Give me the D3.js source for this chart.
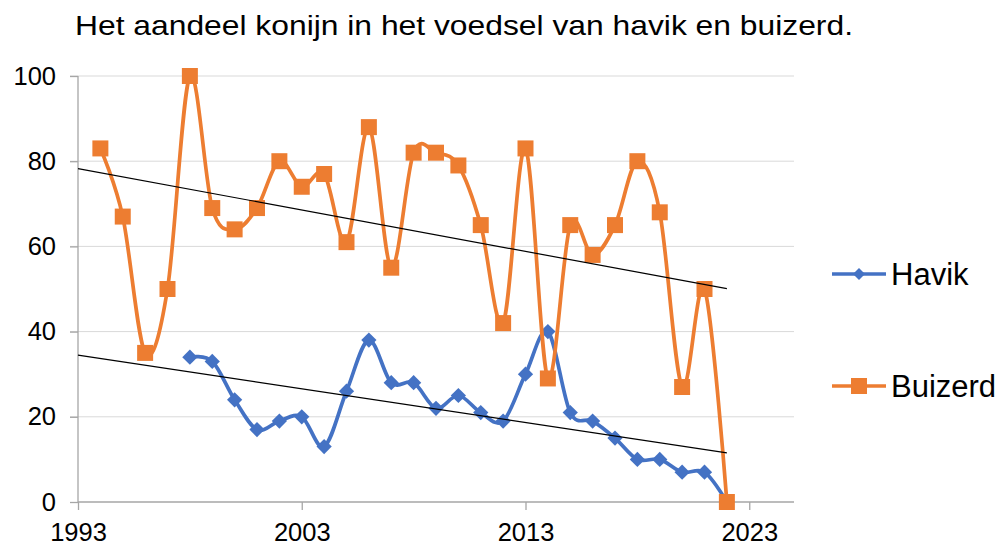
<!DOCTYPE html>
<html>
<head>
<meta charset="utf-8">
<script src="https://cdn.jsdelivr.net/npm/d3@7"></script>
<style>
  body { margin: 0; background: #fff; }
  text { font-family: "Liberation Sans", Arial, sans-serif; fill: #000; }
</style>
</head>
<body>
<div id="chart"></div>
<script>
// data
var buizerdYears = d3.range(1994, 2023);
var buizerdValues = [83, 67, 35, 50, 100, 69, 64, 69, 80, 74, 77, 61, 88, 55, 82, 82, 79, 65, 42, 83, 29, 65, 58, 65, 80, 68, 27, 50, 0];
var havikYears = d3.range(1998, 2023);
var havikValues = [34, 33, 24, 17, 19, 20, 13, 26, 38, 28, 28, 22, 25, 21, 19, 30, 40, 21, 19, 15, 10, 10, 7, 7, 0];
var xTicks = [1993, 2003, 2013, 2023];
var yTicks = [0, 20, 40, 60, 80, 100];
var titleText = "Het aandeel konijn in het voedsel van havik en buizerd.";

var width = 1000, height = 546;
var plot = {left: 78, right: 794, top: 76, bottom: 502};

var svg = d3.select("#chart").append("svg")
  .attr("width", width)
  .attr("height", height);

var x = d3.scaleLinear().domain([1993, 2025]).range([plot.left, plot.right]);
var y = d3.scaleLinear().domain([0, 100]).range([plot.bottom, plot.top]);

//title (the original is a bit wider than plain Arial)
svg.append("text")
  .attr("x", 75).attr("y", 35)
  .style("font-size", "27.5px")
  .attr("textLength", 778)
  .attr("lengthAdjust", "spacingAndGlyphs")
  .text(titleText);

//gridlines
svg.append("g").selectAll("line")
  .data(yTicks.filter(function(d) { return d > 0; }))
  .enter().append("line")
  .attr("x1", plot.left - 8).attr("x2", plot.right)
  .attr("y1", function(d) { return y(d); })
  .attr("y2", function(d) { return y(d); })
  .attr("stroke", "#d9d9d9").attr("stroke-width", 1);

//axes
var yAxis = svg.append("g")
  .attr("transform", "translate(" + plot.left + ",0)")
  .call(d3.axisLeft(y).tickValues(yTicks).tickSize(8).tickPadding(14));
var xAxis = svg.append("g")
  .attr("transform", "translate(0," + plot.bottom + ")")
  .call(d3.axisBottom(x).tickValues(xTicks).tickFormat(d3.format("d")).tickSize(8));

[yAxis, xAxis].forEach(function(a) {
  a.select(".domain").attr("stroke", "#a6a6a6").attr("stroke-width", 1.3);
  a.selectAll(".tick line").attr("stroke", "#a6a6a6").attr("stroke-width", 1.3);
  a.selectAll(".tick text")
    .style("font-size", "25.5px")
    .style("font-family", "'Liberation Sans', Arial, sans-serif")
    .attr("fill", "#000");
});
yAxis.select(".domain").attr("d", "M0," + plot.top + "V" + plot.bottom);
xAxis.select(".domain").attr("d", "M" + plot.left + ",0H" + plot.right);
xAxis.selectAll(".tick text").attr("y", 39).attr("dy", 0);

//linear trend (least squares), drawn from 1993 to 2022
function trend(xs, ys) {
  var mx = d3.mean(xs), my = d3.mean(ys);
  var sxy = d3.sum(xs, function(v, i) { return (v - mx) * (ys[i] - my); });
  var sxx = d3.sum(xs, function(v) { return (v - mx) * (v - mx); });
  var b = sxy / sxx;
  return function(t) { return my + b * (t - mx); };
}

var series = [
  {name: "Havik", years: havikYears, values: havikValues, color: "#4472c4", symbol: "diamond"},
  {name: "Buizerd", years: buizerdYears, values: buizerdValues, color: "#ed7d31", symbol: "square"}
];

var line = d3.line()
  .x(function(d) { return x(d[0]); })
  .y(function(d) { return y(d[1]); })
  .curve(d3.curveCardinal.tension(0));

function marker(sel, s, small) {
  if (s.symbol == "square") {
    sel.append("path").attr("d", d3.symbol().type(d3.symbolSquare).size(256)())
      .attr("fill", s.color);
  } else {
    sel.append("path").attr("d", d3.symbol().type(d3.symbolSquare).size(small ? 72 : 116)())
      .attr("transform", "rotate(45)")
      .attr("fill", s.color);
  }
}

series.forEach(function(s) {
  var pts = s.years.map(function(yr, i) { return [yr, s.values[i]]; });
  svg.append("path")
    .datum(pts)
    .attr("d", line)
    .attr("fill", "none")
    .attr("stroke", s.color)
    .attr("stroke-width", 3.7)
    .attr("stroke-linejoin", "round");

  svg.append("g").selectAll("g")
    .data(pts)
    .enter().append("g")
    .attr("transform", function(d) { return "translate(" + x(d[0]) + "," + y(d[1]) + ")"; })
    .each(function() { marker(d3.select(this), s, false); });
});

series.forEach(function(s) {
  var f = trend(s.years, s.values);
  svg.append("line")
    .attr("x1", x(1993)).attr("y1", y(f(1993)))
    .attr("x2", x(2022)).attr("y2", y(f(2022)))
    .attr("stroke", "#000").attr("stroke-width", 1.2);
});

//legend
var legendY = [274, 386];
series.forEach(function(s, i) {
  var g = svg.append("g").attr("transform", "translate(832," + legendY[i] + ")");
  g.append("line").attr("x1", 0).attr("x2", 54)
    .attr("stroke", s.color).attr("stroke-width", 3.5);
  marker(g.append("g").attr("transform", "translate(27,0)"), s, true);
  g.append("text").attr("x", 59).attr("y", 11)
    .style("font-size", "31px")
    .text(s.name);
});
</script>
</body>
</html>
